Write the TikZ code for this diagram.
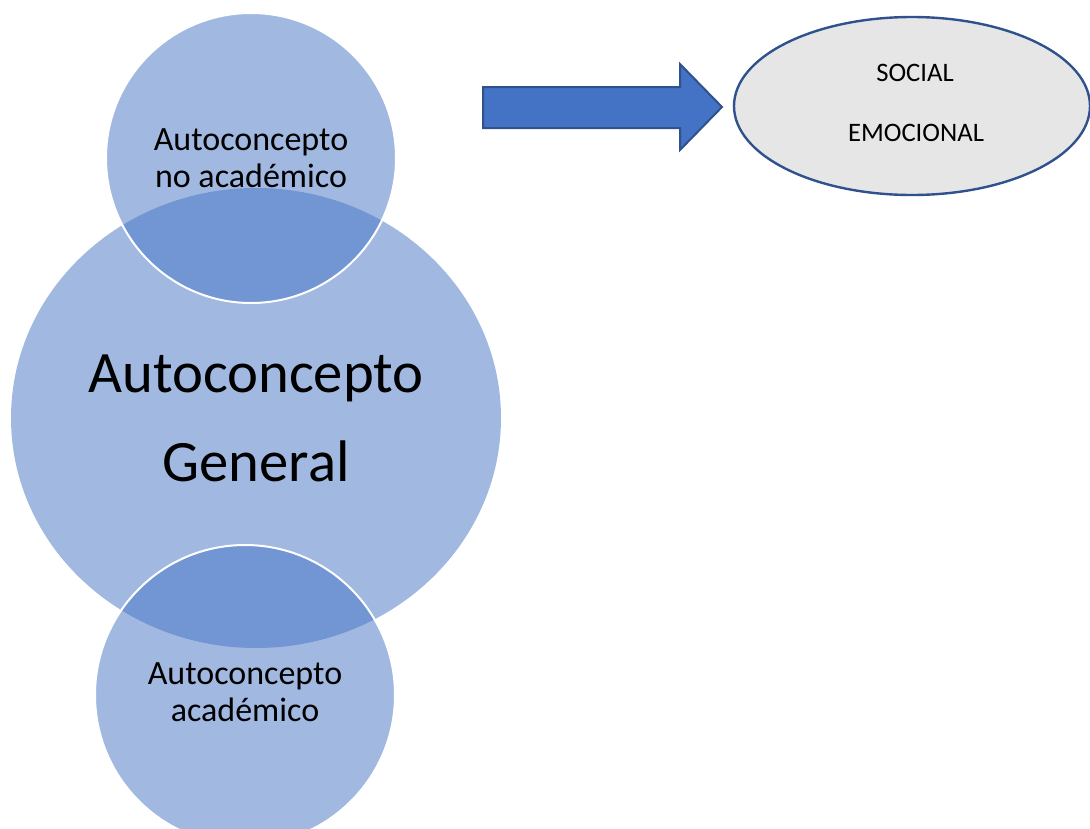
\documentclass[tikz,border=0pt]{standalone}
\usepackage{fontspec}
\setmainfont{Carlito}
\usetikzlibrary{shapes.geometric}
\definecolor{accent}{HTML}{4472C4}
\definecolor{accentdark}{HTML}{2F528F}
\definecolor{lightgray}{HTML}{E7E6E6}
\begin{document}
\begin{tikzpicture}[x=0.75pt,y=-0.75pt,
  bubble/.style={ellipse, fill=accent, fill opacity=0.5, text opacity=1,
    inner sep=0pt, align=center, text=black},
  smalltext/.style={font=\fontsize{25.5}{27.8}\selectfont},
  bigtext/.style={font=\fontsize{44}{66.8}\selectfont},
  ringline/.style={draw=white, line width=1.5pt},
  tagtext/.style={font=\fontsize{20}{24}\selectfont, text=black},
  bigarrow/.style={fill=accent, draw=accentdark, line width=1.5pt, line join=miter}]
  \useasboundingbox (0,0) rectangle (1090,829);
  \clip (0,0) rectangle (1090,829);

  % central self-concept bubble
  \node[bubble, bigtext, minimum width=490*0.75pt, minimum height=460*0.75pt]
    (general) at (256,418) {Autoconcepto\\General};
  % non-academic and academic bubbles overlapping it
  \node[bubble, smalltext, ringline, minimum width=290*0.75pt, minimum height=290*0.75pt]
    (noacad) at (251,158) {Autoconcepto\\no académico};
  \node[bubble, ringline, minimum width=300*0.75pt, minimum height=300*0.75pt]
    (acad) at (245,695) {};
  \node[smalltext, align=center, inner sep=0pt] (acadtext) at ([yshift=2.2pt]acad.center)
    {Autoconcepto\\académico};

  % block arrow
  \coordinate (a1) at (483,87);
  \coordinate (a2) at (680,87);
  \coordinate (a3) at (680,64);
  \coordinate (tip) at (722,107);
  \coordinate (a5) at (680,150);
  \coordinate (a6) at (680,128);
  \coordinate (a7) at (483,128);
  \draw[bigarrow] (a1) -- (a2) -- (a3) -- (tip) -- (a5) -- (a6) -- (a7) -- cycle;

  % dimensions ellipse
  \node[ellipse, fill=lightgray, draw=accentdark, line width=1.8pt,
    minimum width=356*0.75pt, minimum height=178*0.75pt] (dims) at (912,106) {};
  \node[tagtext] (social) at (915,73) {SOCIAL};
  \node[tagtext] (emoc) at (916,133) {EMOCIONAL};
\end{tikzpicture}
\end{document}
